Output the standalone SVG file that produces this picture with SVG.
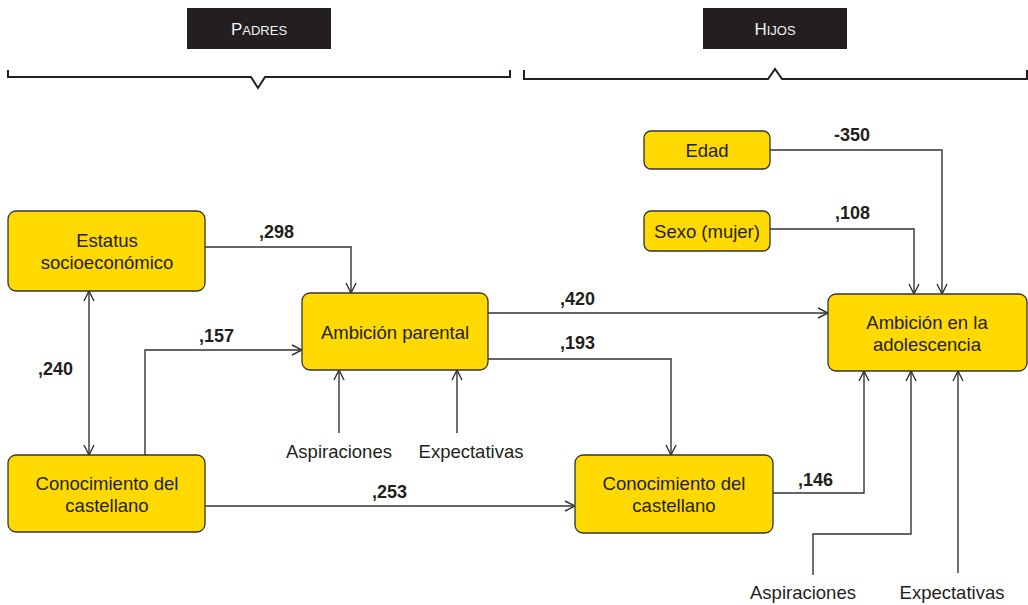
<svg xmlns="http://www.w3.org/2000/svg" width="1028" height="605" viewBox="0 0 1028 605">
<defs>
<style>
.node{fill:#FFD900;stroke:#333;stroke-width:1.3}
.nt{font-family:"Liberation Sans",Arial,sans-serif;font-size:18.5px;fill:#231f20;text-anchor:middle}
.lb{font-family:"Liberation Sans",Arial,sans-serif;font-size:18px;font-weight:bold;fill:#231f20}
.ft{font-family:"Liberation Sans",Arial,sans-serif;font-size:18.5px;fill:#231f20;text-anchor:middle}
.hd{fill:#231f20}
.ht{font-family:"Liberation Sans",Arial,sans-serif;fill:#f2f2f2;text-anchor:middle}
.br{fill:none;stroke:#231f20;stroke-width:2}
.cn{fill:none;stroke:#333;stroke-width:1.4;marker-end:url(#ah)}
.cn2{fill:none;stroke:#333;stroke-width:1.4;marker-end:url(#ah);marker-start:url(#ahs)}
</style>
<marker id="ah" viewBox="0 0 12 12" refX="11" refY="6" markerWidth="12" markerHeight="12" markerUnits="userSpaceOnUse" orient="auto">
<path d="M1,1 L11,6 L1,11" fill="none" stroke="#333" stroke-width="1.4"/>
</marker>
<marker id="ahs" viewBox="0 0 12 12" refX="11" refY="6" markerWidth="12" markerHeight="12" markerUnits="userSpaceOnUse" orient="auto-start-reverse">
<path d="M1,1 L11,6 L1,11" fill="none" stroke="#333" stroke-width="1.4"/>
</marker>
</defs>
<rect width="1028" height="605" fill="#fff"/>
<g id="header-padres">
<rect class="hd" x="187" y="8" width="144" height="41"/>
<text class="ht" x="259" y="35"><tspan font-size="17">P</tspan><tspan font-size="13">ADRES</tspan></text>
<path class="br" d="M8,70 V77 H251 L258,88 L265,77 H510 V70"/>
</g>
<g id="header-hijos">
<rect class="hd" x="703" y="8" width="144" height="41"/>
<text class="ht" x="775" y="35"><tspan font-size="17">H</tspan><tspan font-size="13">IJOS</tspan></text>
<path class="br" d="M524,70 V79 H768 L775,69 L782,79 H1027 V70"/>
</g>
<g id="connectors">
<path class="cn" d="M205,247 H351 V293"/>
<path class="cn2" d="M89,455 V291"/>
<path class="cn" d="M145,455 V350 H302"/>
<path class="cn" d="M339,433 V370"/>
<path class="cn" d="M457,433 V370"/>
<path class="cn" d="M488,313 H828"/>
<path class="cn" d="M488,359 H671 V455"/>
<path class="cn" d="M205,506 H575"/>
<path class="cn" d="M773,493 H864 V371"/>
<path class="cn" d="M813,575 V534 H911 V371"/>
<path class="cn" d="M958,573 V371"/>
<path class="cn" d="M770,150 H942 V294"/>
<path class="cn" d="M770,229 H914 V294"/>
</g>
<g id="labels">
<text class="lb" x="259" y="238">,298</text>
<text class="lb" x="199" y="342">,157</text>
<text class="lb" x="38" y="375">,240</text>
<text class="lb" x="560" y="305">,420</text>
<text class="lb" x="560" y="349">,193</text>
<text class="lb" x="372" y="498">,253</text>
<text class="lb" x="798" y="486">,146</text>
<text class="lb" x="834" y="141">-350</text>
<text class="lb" x="835" y="219">,108</text>
<text class="ft" x="339" y="458">Aspiraciones</text>
<text class="ft" x="471" y="458">Expectativas</text>
<text class="ft" x="803" y="599">Aspiraciones</text>
<text class="ft" x="952" y="599">Expectativas</text>
</g>
<g id="node-estatus">
<rect class="node" x="8" y="211" width="197" height="80" rx="8"/>
<text class="nt" x="107" y="247">Estatus</text>
<text class="nt" x="107" y="269">socioeconómico</text>
</g>
<g id="node-ambicion-parental">
<rect class="node" x="302" y="293" width="186" height="77" rx="8"/>
<text class="nt" x="395" y="339">Ambición parental</text>
</g>
<g id="node-conocimiento-padres">
<rect class="node" x="8" y="455" width="197" height="77" rx="8"/>
<text class="nt" x="107" y="490">Conocimiento del</text>
<text class="nt" x="107" y="512">castellano</text>
</g>
<g id="node-conocimiento-hijos">
<rect class="node" x="575" y="455" width="198" height="78" rx="8"/>
<text class="nt" x="674" y="490">Conocimiento del</text>
<text class="nt" x="674" y="512">castellano</text>
</g>
<g id="node-ambicion-adolescencia">
<rect class="node" x="828" y="294" width="199" height="77" rx="8"/>
<text class="nt" x="927" y="329">Ambición en la</text>
<text class="nt" x="927" y="351">adolescencia</text>
</g>
<g id="node-edad">
<rect class="node" x="644" y="131" width="126" height="38" rx="7"/>
<text class="nt" x="707" y="157">Edad</text>
</g>
<g id="node-sexo">
<rect class="node" x="644" y="211" width="126" height="40" rx="7"/>
<text class="nt" x="707" y="238">Sexo (mujer)</text>
</g>
</svg>
